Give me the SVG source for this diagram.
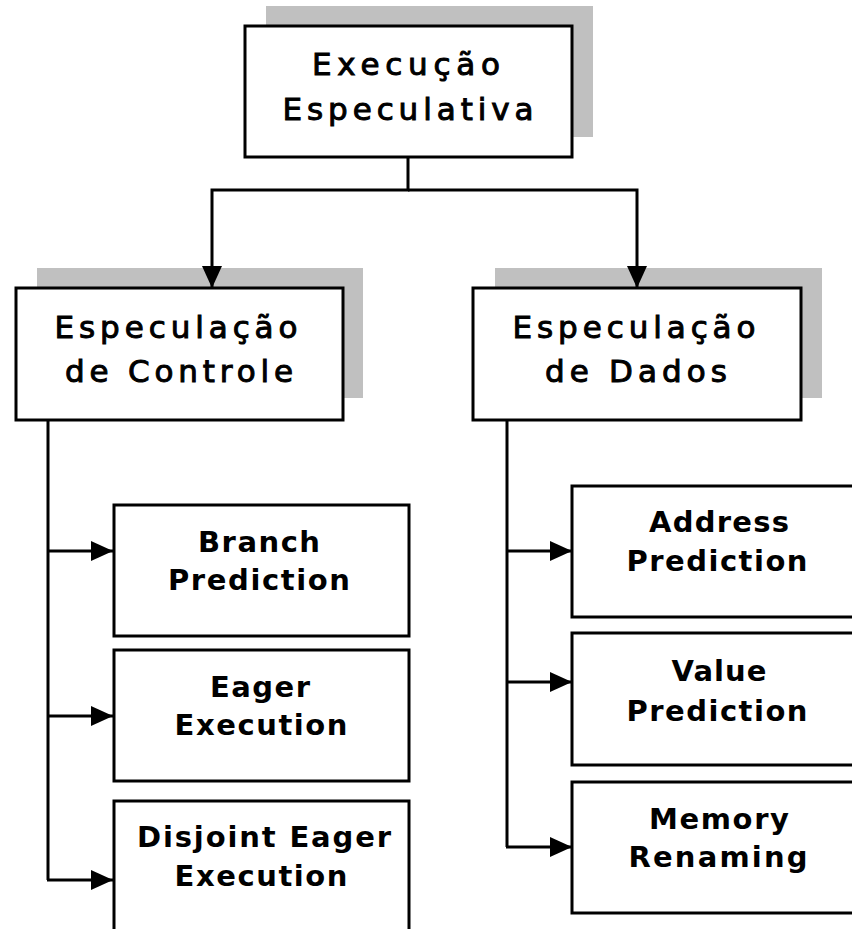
<svg xmlns="http://www.w3.org/2000/svg" width="852" height="929" viewBox="0 0 852 929">
<defs>
<style>
.box{fill:#fff;stroke:#000;stroke-width:3}
.shadow{fill:#c0c0c0}
.line{fill:none;stroke:#000;stroke-width:3}
.arr{fill:none;stroke:#000;stroke-width:3;marker-end:url(#ah)}
.t{font-family:"DejaVu Sans","Liberation Sans",sans-serif;font-size:31px;fill:#000;stroke:#000;stroke-width:1;text-anchor:middle}
.tb{font-family:"DejaVu Sans","Liberation Sans",sans-serif;font-size:29px;font-weight:bold;fill:#000;text-anchor:middle}
</style>
<marker id="ah" markerUnits="userSpaceOnUse" markerWidth="22" markerHeight="20" refX="22" refY="10" orient="auto">
<path d="M0,0 L22,10 L0,20 z" fill="#000"/>
</marker>
</defs>
<rect width="852" height="929" fill="#fff"/>
<g id="n-root">
<rect class="shadow" x="266" y="6" width="327" height="131"/>
<rect class="box" x="245" y="26" width="327" height="131"/>
<text class="t" x="406" y="75" textLength="188" lengthAdjust="spacing">Execução</text>
<text class="t" x="408" y="120" textLength="251" lengthAdjust="spacing">Especulativa</text>
</g>
<g id="n-controle">
<rect class="shadow" x="37" y="268" width="326" height="130"/>
<rect class="box" x="16" y="288" width="327" height="132"/>
<text class="t" x="176" y="338" textLength="243" lengthAdjust="spacing">Especulação</text>
<text class="t" x="179" y="382" textLength="228" lengthAdjust="spacing">de Controle</text>
</g>
<g id="n-dados">
<rect class="shadow" x="495" y="268" width="327" height="130"/>
<rect class="box" x="473" y="288" width="328" height="132"/>
<text class="t" x="634" y="338" textLength="243" lengthAdjust="spacing">Especulação</text>
<text class="t" x="636" y="382" textLength="182" lengthAdjust="spacing">de Dados</text>
</g>
<g id="n-branch">
<rect class="box" x="114" y="505" width="295" height="131"/>
<text class="tb" x="259" y="552" textLength="122" lengthAdjust="spacing">Branch</text>
<text class="tb" x="259" y="590" textLength="182" lengthAdjust="spacing">Prediction</text>
</g>
<g id="n-eager">
<rect class="box" x="114" y="650" width="295" height="131"/>
<text class="tb" x="260" y="697" textLength="100" lengthAdjust="spacing">Eager</text>
<text class="tb" x="261" y="735" textLength="173" lengthAdjust="spacing">Execution</text>
</g>
<g id="n-disjoint">
<rect class="box" x="114" y="801" width="295" height="140"/>
<text class="tb" x="264" y="847" textLength="254" lengthAdjust="spacing">Disjoint Eager</text>
<text class="tb" x="261" y="886" textLength="173" lengthAdjust="spacing">Execution</text>
</g>
<g id="n-address">
<rect class="box" x="572" y="486" width="295" height="131"/>
<text class="tb" x="719" y="532" textLength="140" lengthAdjust="spacing">Address</text>
<text class="tb" x="717" y="571" textLength="181" lengthAdjust="spacing">Prediction</text>
</g>
<g id="n-value">
<rect class="box" x="572" y="633" width="295" height="132"/>
<text class="tb" x="719" y="681" textLength="95" lengthAdjust="spacing">Value</text>
<text class="tb" x="717" y="721" textLength="181" lengthAdjust="spacing">Prediction</text>
</g>
<g id="n-memory">
<rect class="box" x="572" y="782" width="295" height="131"/>
<text class="tb" x="719" y="829" textLength="140" lengthAdjust="spacing">Memory</text>
<text class="tb" x="718" y="867" textLength="179" lengthAdjust="spacing">Renaming</text>
</g>
<g id="connectors">
<path class="arr" d="M408,158 V190 H212 V288"/>
<path class="arr" d="M408,190 H637 V288"/>
<path class="line" d="M48,421 V880"/>
<path class="arr" d="M48,551 H113"/>
<path class="arr" d="M48,716 H113"/>
<path class="arr" d="M47,880 H113"/>
<path class="line" d="M507,421 V847"/>
<path class="arr" d="M507,551 H572"/>
<path class="arr" d="M507,682 H572"/>
<path class="arr" d="M506,847 H572"/>
</g>
</svg>
